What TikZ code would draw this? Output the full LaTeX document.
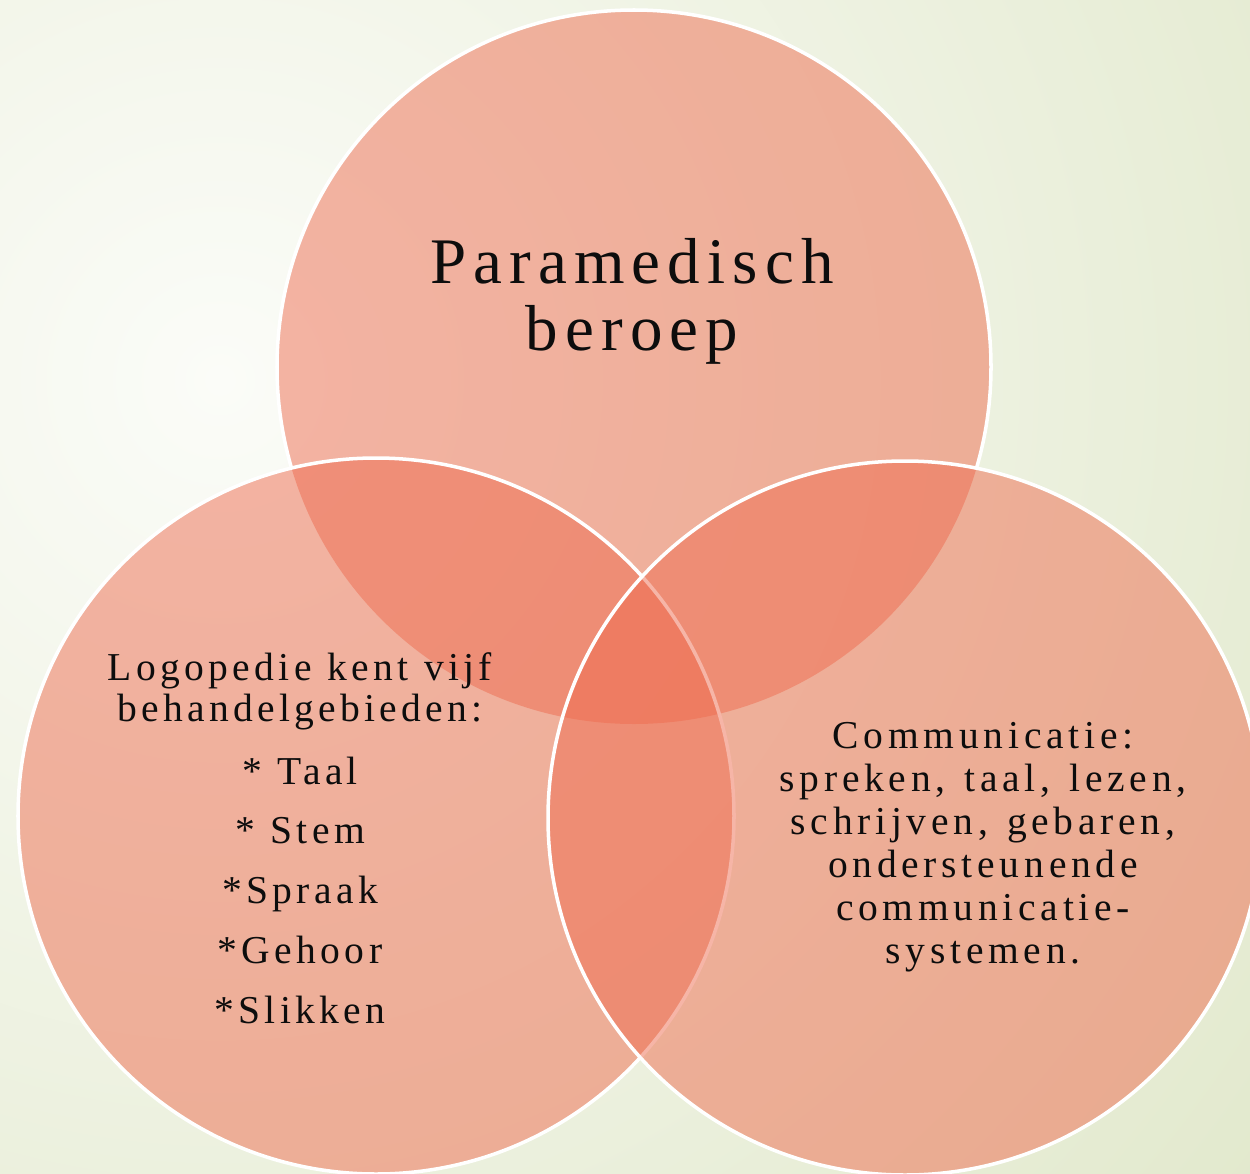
\documentclass[tikz,border=0pt]{standalone}
\usepackage{fontspec}
\setmainfont{Liberation Serif}
\newfontfamily\spacedfont[LetterSpace=11]{Liberation Serif}
\newfontfamily\sidefont[LetterSpace=12,WordSpace=1.3]{Liberation Serif}
\newfontfamily\leftfont[LetterSpace=11,WordSpace=1.1]{Liberation Serif}
\definecolor{bginner}{HTML}{FBFCF8}
\definecolor{bgouter}{HTML}{E2E9CD}
\definecolor{salmon}{HTML}{EE6C50}
\definecolor{ink}{HTML}{0D0D0D}
\tikzset{
  circfill/.style={fill=salmon, fill opacity=0.5},
  circborder/.style={draw=white, line width=2pt},
  toptext/.style={align=center, text=ink, inner sep=0pt,
    font={\spacedfont\fontsize{37pt}{38pt}\selectfont}},
  sidetext/.style={align=center, text=ink, inner sep=0pt,
    font={\sidefont\fontsize{22.5pt}{24.4pt}\selectfont}},
  lefttext/.style={align=center, text=ink, inner sep=0pt,
    font={\leftfont\fontsize{22.5pt}{23.2pt}\selectfont}}
}
\begin{document}
\begin{tikzpicture}[x=0.02cm, y=-0.02cm]
  \useasboundingbox (0,0) rectangle (1250,1173);
  % background
  \begin{scope}
    \clip (0,0) rectangle (1250,1173);
    \shade[inner color=bginner, outer color=bgouter] (220,380) circle (1320);
  \end{scope}
  \coordinate (ct) at (634,367);
  \coordinate (cl) at (376,816);
  \coordinate (cr) at (905,818);
  % top circle
  \fill[circfill] (ct) circle (357);
  \begin{scope}[even odd rule]
    \clip (-100,-100) rectangle (1400,1300) (cl) circle (358);
    \clip (-100,-100) rectangle (1400,1300) (cr) circle (357);
    \draw[circborder] (ct) circle (357);
  \end{scope}
  % left circle
  \fill[circfill] (cl) circle (358);
  \draw[circborder] (cl) circle (358);
  % right circle
  \fill[circfill] (cr) circle (357);
  \draw[circborder] (cr) circle (357);
  % texts (base anchor = baseline of the last line)
  \node[toptext, anchor=base] (ttop) at (632,350) {Paramedisch\\beroep};
  \node[lefttext, anchor=base] (tleft) at (300,1023)
    {Logopedie kent vijf\\behandelgebieden:\\[12.5pt]* Taal\\[10.8pt]* Stem\\[10.8pt]*Spraak\\[10.8pt]*Gehoor\\[10.8pt]*Slikken};
  \node[sidetext, anchor=base] (tright) at (983,963)
    {Communicatie:\\spreken, taal, lezen,\\schrijven, gebaren,\\ondersteunende\\communicatie-\\systemen.};
\end{tikzpicture}
\end{document}
